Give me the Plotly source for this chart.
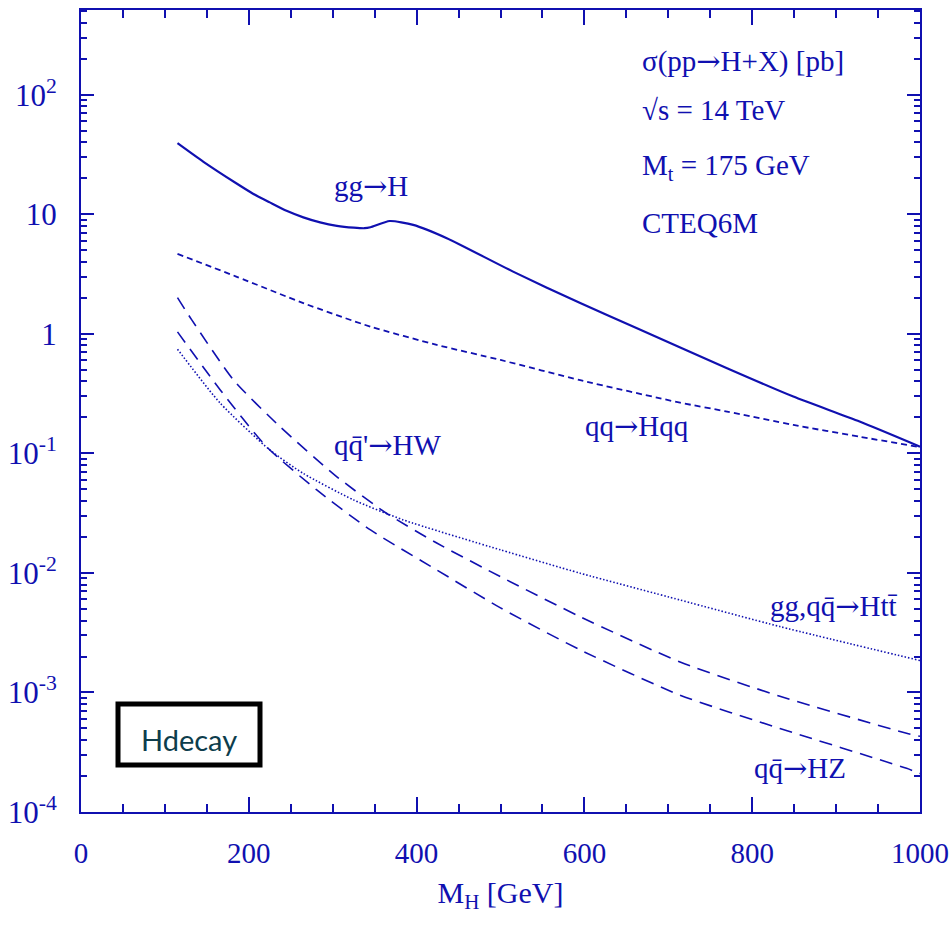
import numpy as np
import plotly.graph_objects as go

BLUE = "#1010b0"

# ---- data ----
mh_ggh = [115, 146, 185, 205, 225, 245, 265, 285, 305, 325, 338, 345, 368, 396, 436, 515, 595, 662, 770, 849, 928, 1000]
sig_ggh = [39.4, 27.5, 18.2, 14.9, 12.6, 10.7, 9.44, 8.57, 8.02, 7.74, 7.66, 7.8, 8.8, 8.17, 6.32, 3.32, 1.81, 1.12, 0.516, 0.299, 0.185, 0.114]

mh_hqq = [115, 185, 265, 345, 424, 500, 595, 714, 770, 849, 928, 1000]
sig_hqq = [4.67, 3.02, 1.81, 1.15, 0.81, 0.605, 0.41, 0.266, 0.224, 0.173, 0.138, 0.113]

mh_hw = [115, 132, 182, 237, 305, 364, 424, 500, 595, 714, 833, 984, 1000]
sig_hw = [2.01, 1.31, 0.41, 0.168, 0.0638, 0.0316, 0.0178, 0.0093, 0.0043, 0.0018, 0.00093, 0.000456, 0.00043]

mh_hz = [115, 166, 221, 281, 345, 424, 500, 595, 714, 833, 984, 1000]
sig_hz = [1.04, 0.34, 0.114, 0.0495, 0.0229, 0.0106, 0.0051, 0.00227, 0.00095, 0.0005, 0.000232, 0.00021]

mh_htt = [115, 166, 225, 265, 325, 384, 500, 595, 714, 833, 1000]
sig_htt = [0.745, 0.263, 0.107, 0.068, 0.0408, 0.0278, 0.0156, 0.00995, 0.00594, 0.00356, 0.00185]

x_tickvals = [0, 200, 400, 600, 800, 1000]
y_tickvals = [1e-4, 1e-3, 1e-2, 1e-1, 1, 10, 100]
y_ticktext = ["10<sup>-4</sup>", "10<sup>-3</sup>", "10<sup>-2</sup>", "10<sup>-1</sup>", "1", "10", "10<sup>2</sup>"]

FONT = "Liberation Serif"
ARROW = "<span style=\"font-family:'DejaVu Serif'\">→</span>"

fig = go.Figure()
series = [
    (mh_ggh, sig_ggh, "solid", 2.2),
    (mh_hqq, sig_hqq, "6px,4px", 1.8),
    (mh_hw, sig_hw, "13px,8px", 1.6),
    (mh_hz, sig_hz, "13px,8px", 1.6),
    (mh_htt, sig_htt, "1.5px,2px", 1.6),
]
for xs, ys, dash, w in series:
    fig.add_trace(go.Scatter(x=xs, y=ys, mode="lines",
                             line=dict(color=BLUE, width=w, dash=dash, shape="spline", smoothing=0.6),
                             showlegend=False, hoverinfo="skip"))

L, R, T, B = 81, 30, 10, 116
W, H = 950, 928
pw, ph = W - L - R, H - T - B


def px(xp):
    return (xp - L) / pw


def py(yp):
    return (H - B - yp) / ph


annos = [
    ("σ(pp" + ARROW + "H+X) [pb]", 640, 61),
    ("√s = 14 TeV", 640, 110),
    ("M<sub>t</sub> = 175 GeV", 640, 167),
    ("CTEQ6M", 640, 223),
    ("gg" + ARROW + "H", 332, 186),
    ("qq" + ARROW + "Hqq", 583, 426),
    ("qq\u0304'" + ARROW + "HW", 332, 445),
    ("gg,qq\u0304" + ARROW + "Htt\u0304", 768, 606),
    ("qq\u0304" + ARROW + "HZ", 752, 768),
]
for text, xp, yp in annos:
    fig.add_annotation(text=text, x=px(xp), y=py(yp), xref="paper", yref="paper",
                       xanchor="left", yanchor="middle", showarrow=False,
                       font=dict(family=FONT, size=29, color=BLUE))

# Hdecay box
fig.add_shape(type="rect", xref="paper", yref="paper",
              x0=px(118), x1=px(260), y0=py(765), y1=py(704),
              line=dict(color="black", width=5), fillcolor="white", layer="above")
fig.add_annotation(text="Hdecay", x=px(189), y=py(739), xref="paper", yref="paper",
                   showarrow=False, xanchor="center", yanchor="middle",
                   font=dict(family="Lato", size=29, color="#0d3d4c"))

fig.update_xaxes(range=[0, 1000], tickvals=x_tickvals, ticks="inside", ticklen=15, tickwidth=2,
                 tickcolor=BLUE, showline=True, linecolor=BLUE, linewidth=2, mirror="ticks",
                 showgrid=False, zeroline=False, ticklabelstandoff=14, automargin=False,
                 tickfont=dict(family=FONT, size=29, color=BLUE),
                 minor=dict(ticks="inside", ticklen=8, tickwidth=1.6, tickcolor=BLUE, dtick=50, showgrid=False),
                 title=dict(text="M<sub>H</sub> [GeV]", font=dict(family=FONT, size=30, color=BLUE), standoff=14))
fig.update_yaxes(type="log", range=[-4, 2.71], tickvals=y_tickvals, ticktext=y_ticktext,
                 ticks="inside", ticklen=13, tickwidth=2, tickcolor=BLUE, showline=True,
                 linecolor=BLUE, linewidth=2, mirror="ticks", showgrid=False, zeroline=False,
                 ticklabelstandoff=16, automargin=False,
                 tickfont=dict(family=FONT, size=31, color=BLUE),
                 minor=dict(ticks="inside", ticklen=6, tickwidth=1.6, tickcolor=BLUE, dtick="D1", showgrid=False))

fig.update_layout(width=W, height=H, margin=dict(l=L, r=R, t=T, b=B),
                  plot_bgcolor="white", paper_bgcolor="white")

fig.write_html("out.html")
